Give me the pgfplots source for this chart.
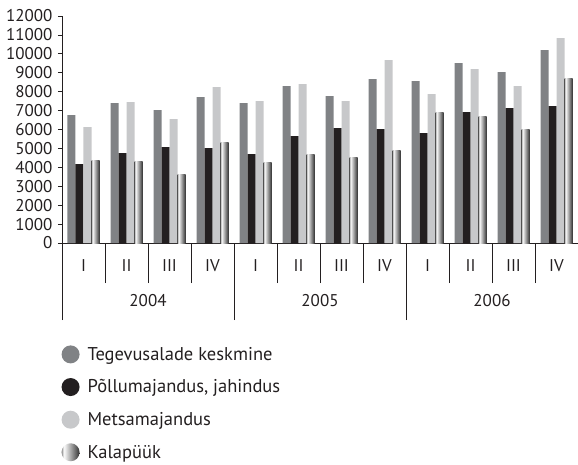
\documentclass[border=0pt]{standalone}
\usepackage{pgfplots}
\pgfplotsset{compat=1.18}
\usepackage{fontspec}
\setmainfont{PT Sans}

\definecolor{ink}{HTML}{231F20}
\definecolor{midgray}{HTML}{808285}
\definecolor{palegray}{HTML}{C7C8CA}
% light at the left edge, white band, dark on the right
\pgfdeclarehorizontalshading{kala}{100bp}{color(0bp)=(black!45); color(25bp)=(black!45); color(31bp)=(white); color(75bp)=(black!80); color(100bp)=(black!80)}

\pgfplotstableread{
x  kesk   pollu  mets
1  6760   4165   6120
2  7395   4745   7445
3  7025   5065   6545
4  7710   5010   8240
5  7395   4695   7500
6  8295   5645   8400
7  7765   6070   7500
8  8665   6015   9670
9  8560   5805   7870
10 9510   6915   9195
11 9035   7130   8295
12 10200  7235   10835
}\palgad

\begin{document}
\begin{tikzpicture}
\useasboundingbox (-62pt,-221pt) rectangle (516pt,243pt);
\begin{axis}[
  at={(0,0)}, anchor=south west,
  scale only axis,
  width=516pt, height=227pt,
  ybar,
  bar width=8pt,
  xmin=0.5, xmax=12.5,
  ymin=0, ymax=12000,
  axis lines*=left,
  axis line style={ink, line width=0.9pt},
  tick align=outside,
  tick style={ink, line width=0.8pt},
  ytick={0,1000,...,12000},
  scaled y ticks=false,
  /pgf/number format/assume math mode=true,
  /pgf/number format/set thousands separator={},
  tick label style={font=\fontsize{17}{19}\selectfont, text=ink},
  yticklabel style={xshift=-2pt},
  major tick length=4pt,
  xtick={1,...,12},
  xticklabels={I,II,III,IV,I,II,III,IV,I,II,III,IV},
  x tick style={draw=none},
  xticklabel style={yshift=-9pt},
  minor xtick={1.5,2.5,3.5,5.5,6.5,7.5,9.5,10.5,11.5},
  minor x tick style={draw=ink, line width=0.8pt},
  minor tick length=40pt,
  extra x ticks={0.5,4.5,8.5},
  extra x tick labels={},
  extra x tick style={major tick length=77pt, x tick style={draw=ink, line width=0.8pt}},
  clip=false,
  legend style={at={(-0.007,-0.44)}, anchor=north west, draw=none, fill=none,
    font=\fontsize{18.5}{20}\selectfont, text=ink, row sep=14pt,
    /tikz/every odd column/.style={column sep=6pt}},
  legend cell align=left,
]
\addplot[fill=midgray, draw=none, bar shift=-12pt,
  legend image code/.code={\fill[midgray] (9pt,0pt) circle (9pt);}]
  table[x=x, y=kesk] {\palgad};
\addplot[fill=ink, draw=none, bar shift=-4pt,
  legend image code/.code={\fill[ink] (9pt,0pt) circle (9pt);}]
  table[x=x, y=pollu] {\palgad};
\addplot[fill=palegray, draw=none, bar shift=4pt,
  legend image code/.code={\fill[palegray] (9pt,0pt) circle (9pt);}]
  table[x=x, y=mets] {\palgad};

% Kalapüük: one plot per bar, so that each bar gets its own shading
\pgfplotsset{kalabar/.style={shading=kala, shade, draw=none, bar shift=12pt}}
\addplot[kalabar,
  legend image code/.code={\shade[shading=kala] (9pt,0pt) circle (9pt);}]
  coordinates {(1,4375)};
\addplot[kalabar, forget plot] coordinates {(2,4325)};
\addplot[kalabar, forget plot] coordinates {(3,3635)};
\addplot[kalabar, forget plot] coordinates {(4,5330)};
\addplot[kalabar, forget plot] coordinates {(5,4270)};
\addplot[kalabar, forget plot] coordinates {(6,4695)};
\addplot[kalabar, forget plot] coordinates {(7,4535)};
\addplot[kalabar, forget plot] coordinates {(8,4905)};
\addplot[kalabar, forget plot] coordinates {(9,6915)};
\addplot[kalabar, forget plot] coordinates {(10,6705)};
\addplot[kalabar, forget plot] coordinates {(11,6015)};
\addplot[kalabar, forget plot] coordinates {(12,8715)};
\legend{Tegevusalade keskmine, {Põllumajandus, jahindus}, Metsamajandus, Kalapüük}

\node[text=ink, font=\fontsize{17}{19}\selectfont] at ([yshift=-58pt]axis cs:2.5,0) {2004};
\node[text=ink, font=\fontsize{17}{19}\selectfont] at ([yshift=-58pt]axis cs:6.5,0) {2005};
\node[text=ink, font=\fontsize{17}{19}\selectfont] at ([yshift=-58pt]axis cs:10.5,0) {2006};
\end{axis}
\end{tikzpicture}
\end{document}
